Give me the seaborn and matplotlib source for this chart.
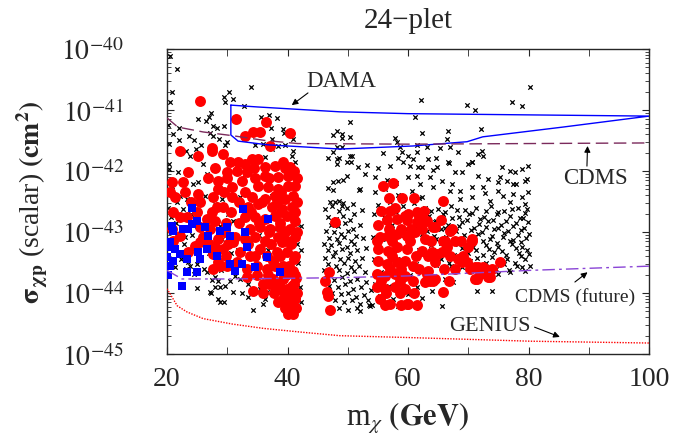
import numpy as np
import matplotlib
matplotlib.use('Agg')
import matplotlib.pyplot as plt
from matplotlib.ticker import LogLocator, NullFormatter
import seaborn as sns

# points: (m_chi in GeV, log10 sigma_xp in cm^2)
blk_left = [
    (20.5, -40.11), (21.7, -40.33), (20.8, -40.71), (20.5, -40.87), (33.9, -40.62), (30.3, -40.70),
    (29.5, -40.78), (29.6, -40.87), (30.9, -40.82), (32.8, -40.93), (27.3, -41.05), (25.1, -41.15),
    (27.0, -41.12), (26.5, -41.18), (22.0, -41.30), (27.6, -41.26), (28.3, -41.30), (29.5, -41.27),
    (23.6, -41.43), (27.1, -41.37), (27.6, -41.43), (22.0, -41.49), (24.5, -41.49), (28.6, -41.48),
    (30.0, -41.53), (29.6, -41.58), (25.6, -41.58), (23.2, -41.67), (24.8, -41.64), (35.6, -41.12),
    (36.9, -41.09), (38.2, -41.13), (37.2, -41.30), (39.2, -41.31), (39.4, -41.38), (40.9, -41.48),
    (37.4, -41.47), (34.6, -41.58), (35.9, -41.56), (37.4, -41.64), (38.4, -41.59), (39.6, -41.58),
    (40.9, -41.67), (20.2, -41.25), (21.0, -41.40), (20.4, -41.55),
    (20.3, -41.89), (20.3, -41.97), (21.8, -42.02), (23.8, -41.75), (26.0, -41.89), (26.6, -42.05),
    (25.1, -42.18), (24.3, -42.21), (20.8, -42.24), (22.2, -42.41), (21.7, -42.51), (23.3, -42.46),
    (26.3, -42.41), (27.5, -42.46), (28.0, -42.54), (29.1, -42.46), (31.3, -42.46), (32.1, -42.43),
    (30.1, -42.70), (31.0, -42.82), (25.0, -42.90), (26.3, -42.82), (23.0, -43.08), (26.8, -43.13),
    (29.1, -43.11), (35.1, -41.84), (36.3, -41.77), (40.7, -41.75), (41.2, -41.85), (40.9, -41.97),
    (41.2, -42.67), (41.5, -42.87), (34.1, -42.41), (37.4, -42.41), (33.0, -42.05), (33.8, -41.97),
    (20.2, -42.60), (20.6, -42.75), (21.5, -42.85), (22.6, -42.62), (24.0, -42.70), (27.2, -42.70),
    (28.8, -42.90), (29.8, -43.25), (30.6, -43.35), (31.8, -43.30), (33.6, -43.20), (35.2, -43.05),
    (36.8, -43.30), (38.0, -42.95), (39.5, -43.05), (41.6, -43.20), (41.8, -43.50), (41.4, -43.80),
    (41.7, -44.05), (41.2, -44.30), (21.5, -43.30), (22.8, -43.20), (24.2, -43.05), (25.8, -43.20),
    (27.0, -43.35), (28.2, -43.45), (29.0, -43.62), (30.8, -43.55), (22.4, -43.45), (23.8, -43.55),
    (26.2, -43.60), (27.5, -43.78), (25.0, -43.92), (27.1, -43.98),
    (21.3, -43.57), (23.2, -43.60), (25.0, -43.52), (24.5, -43.69), (26.6, -43.66), (28.0, -43.90),
    (27.3, -44.00), (28.8, -43.90), (29.6, -43.88), (28.5, -44.10), (29.5, -44.15), (31.3, -43.72),
    (32.1, -43.77), (33.4, -43.85), (34.1, -44.00), (33.4, -44.07), (34.3, -44.28), (35.9, -44.18),
    (36.3, -44.10), (36.6, -43.99), (37.6, -43.88), (39.2, -44.15), (39.2, -44.23), (40.4, -44.26),
    (23.5, -43.49), (29.3, -43.52), (29.9, -43.57), (30.4, -43.80), (28.5, -43.80), (28.0, -43.74),
    (31.0, -43.99), (32.4, -44.00), (35.4, -43.94), (28.8, -44.15),
    (42.2, -42.90), (42.3, -43.30), (42.1, -43.90), (42.2, -44.15),
]

blk_mid = [
    (50.3, -41.20), (48.2, -41.35), (47.5, -41.41), (49.0, -41.46), (48.2, -41.60), (49.0, -41.61),
    (47.5, -41.69), (46.7, -41.79), (48.5, -41.79), (48.2, -41.89), (50.3, -41.75), (50.5, -41.85),
    (51.7, -41.94), (47.5, -42.18), (48.4, -42.16), (49.2, -42.15), (49.8, -42.08), (46.7, -42.28),
    (47.5, -42.31), (51.8, -42.31), (48.5, -42.49), (47.0, -42.51), (49.0, -42.57), (49.0, -41.39),
    (50.3, -41.45), (48.2, -41.80), (49.8, -41.85), (50.7, -41.75), (52.0, -42.30),
    (46.2, -42.62), (47.4, -42.58), (48.6, -42.66), (49.8, -42.60), (51.1, -42.70), (52.3, -42.64),
    (46.8, -42.75), (48.0, -42.78), (49.2, -42.74), (50.4, -42.80), (47.2, -42.88), (48.4, -42.90),
    (49.6, -42.86), (50.9, -42.95), (52.0, -42.88), (46.4, -42.98), (47.7, -43.00), (48.9, -43.03),
    (50.1, -42.99), (51.4, -43.06), (46.9, -43.10), (48.2, -43.12), (49.4, -43.08), (50.6, -43.15),
    (52.6, -43.10), (46.1, -43.20), (47.3, -43.22), (48.6, -43.18), (49.9, -43.24), (51.0, -43.20),
    (46.7, -43.30), (47.9, -43.33), (49.1, -43.28), (50.3, -43.35), (51.6, -43.30), (53.1, -43.26),
    (46.3, -43.42), (47.5, -43.40), (48.7, -43.45), (50.0, -43.43), (51.2, -43.48), (52.4, -43.42),
    (46.8, -43.52), (48.1, -43.55), (49.3, -43.50), (50.6, -43.57), (51.9, -43.55), (46.0, -43.62),
    (47.2, -43.65), (48.5, -43.62), (49.8, -43.68), (51.1, -43.64), (52.8, -43.66), (46.5, -43.75),
    (47.8, -43.78), (49.0, -43.74), (50.3, -43.80), (51.5, -43.77), (53.0, -43.82), (46.9, -43.88),
    (48.3, -43.90), (49.6, -43.86), (50.9, -43.93), (52.2, -43.90), (47.4, -44.00), (48.8, -44.02),
    (50.1, -44.00), (51.4, -44.06), (52.7, -44.03), (47.9, -44.12), (49.3, -44.15), (50.7, -44.12),
    (52.0, -44.18), (53.3, -44.12), (48.5, -44.25), (50.0, -44.28), (51.6, -44.24), (53.6, -44.20),
    (49.2, -42.52), (50.8, -42.54), (47.9, -42.50), (52.0, -44.29), (53.7, -44.21),
]

blk_right = [
    (62.1, -40.84), (69.8, -40.92), (71.2, -41.00), (77.2, -40.87), (78.9, -40.93), (80.2, -40.62),
    (61.1, -41.11), (62.4, -41.38), (66.6, -41.34), (72.1, -41.31), (57.8, -41.46), (58.1, -41.53),
    (58.6, -41.61), (59.0, -41.69), (60.0, -41.75), (61.5, -41.69), (58.3, -41.79), (63.1, -41.61),
    (65.3, -41.63), (66.4, -41.48), (68.3, -41.69), (72.2, -41.67), (71.6, -41.72), (72.4, -41.75),
    (57.0, -41.92), (59.1, -41.85), (60.3, -41.92), (61.6, -41.94), (63.3, -41.80), (64.8, -41.94),
    (66.6, -41.85), (67.8, -42.02), (68.9, -42.02), (69.9, -41.89), (70.7, -41.85), (75.6, -41.94),
    (76.9, -42.00), (77.7, -42.02), (78.9, -41.97), (79.9, -41.92), (75.2, -42.10), (76.4, -42.16),
    (78.0, -42.21), (79.7, -42.13), (61.5, -41.58), (66.9, -41.61), (60.8, -41.80), (64.6, -41.79),
    (62.4, -41.93), (64.1, -41.98), (66.8, -41.87), (70.6, -41.86), (71.6, -42.08), (73.2, -42.13),
    (61.5, -42.08), (63.6, -42.10), (65.6, -42.16), (67.3, -42.21), (70.6, -42.26), (72.4, -42.26),
    (74.9, -42.18), (77.4, -42.21), (79.4, -42.16), (62.0, -42.21), (64.1, -42.26), (66.9, -42.32),
    (68.6, -42.32), (72.7, -42.36), (74.9, -42.32), (75.7, -42.41), (77.4, -42.38), (78.9, -42.43),
    (79.9, -42.35), (61.1, -42.43), (62.4, -42.43), (68.6, -42.46), (70.7, -42.43), (73.6, -42.49),
    (76.9, -42.51), (79.4, -42.54), (55.0, -41.95), (53.2, -41.90), (55.8, -41.70), (54.5, -42.10),
    (56.5, -42.15), (58.0, -42.20), (60.0, -42.10), (52.8, -42.05),
    (62.8, -42.60), (64.9, -42.63), (67.2, -42.58), (69.5, -42.64), (71.3, -42.60), (73.8, -42.57),
    (75.9, -42.65), (78.2, -42.60), (79.8, -42.62), (63.5, -42.74), (65.8, -42.70), (68.4, -42.75),
    (70.2, -42.71), (72.6, -42.76), (74.7, -42.70), (77.0, -42.73), (79.1, -42.77), (62.3, -42.86),
    (64.4, -42.83), (66.7, -42.88), (69.0, -42.84), (71.8, -42.87), (73.3, -42.82), (75.5, -42.88),
    (77.9, -42.85), (79.9, -42.83), (63.1, -42.98), (65.5, -42.95), (67.9, -42.99), (70.5, -42.96),
    (72.2, -43.00), (74.3, -42.95), (76.6, -42.99), (78.7, -42.96), (62.6, -43.10), (64.7, -43.12),
    (66.3, -43.08), (68.8, -43.13), (71.0, -43.09), (73.6, -43.12), (75.8, -43.08), (77.5, -43.13),
    (79.6, -43.10), (63.9, -43.22), (66.0, -43.25), (68.3, -43.20), (70.8, -43.24), (72.9, -43.21),
    (74.9, -43.25), (77.2, -43.20), (79.0, -43.24), (62.9, -43.36), (65.2, -43.33), (67.6, -43.37),
    (69.9, -43.34), (72.4, -43.38), (74.2, -43.33), (76.3, -43.37), (78.4, -43.34), (80.0, -43.36),
    (64.2, -43.48), (66.8, -43.50), (70.3, -43.47), (73.0, -43.50), (75.4, -43.46), (77.8, -43.50),
    (79.5, -43.45), (63.4, -43.60), (65.9, -43.62), (68.9, -43.58), (71.7, -43.62), (74.6, -43.60),
    (76.8, -43.63), (78.9, -43.58), (64.0, -43.97), (65.6, -44.21), (71.4, -43.97), (73.9, -43.97),
    (66.1, -43.77), (67.4, -43.82), (74.9, -43.69), (76.9, -43.66), (79.4, -43.64), (80.2, -43.56),
    (54.5, -42.35), (56.2, -42.30), (58.4, -42.40), (60.6, -42.33), (61.8, -42.45), (55.1, -42.55),
    (57.0, -42.50), (59.2, -42.58), (61.0, -42.52), (54.3, -42.70), (56.0, -42.75), (58.0, -42.68),
    (60.1, -42.76), (61.7, -42.70), (55.0, -42.90), (57.3, -42.88), (59.5, -42.95), (61.2, -42.90),
    (54.2, -43.08), (56.4, -43.12), (58.6, -43.05), (60.7, -43.10), (55.3, -43.28), (57.6, -43.30),
    (59.9, -43.25), (61.9, -43.30), (54.4, -43.45), (56.8, -43.50), (58.9, -43.44), (61.3, -43.52),
    (55.6, -43.66), (57.9, -43.62), (60.3, -43.70), (62.1, -43.65), (54.6, -43.85), (56.9, -43.88),
    (59.1, -43.82), (61.5, -43.90), (55.4, -44.05), (57.5, -44.10), (60.0, -44.02), (62.4, -44.08),
    (54.1, -44.20), (58.3, -44.22), (53.9, -43.95),
]

blk_right_dense = [
    (63.9, -42.66), (66.1, -42.68), (68.2, -42.64), (70.6, -42.69), (72.9, -42.65), (75.0, -42.68),
    (77.3, -42.63), (79.5, -42.69), (62.7, -42.79), (64.6, -42.82), (67.3, -42.77), (69.8, -42.81),
    (71.9, -42.78), (74.1, -42.80), (76.2, -42.82), (78.6, -42.77), (63.8, -42.92), (66.1, -42.94),
    (68.4, -42.90), (70.9, -42.93), (73.0, -42.91), (75.0, -42.94), (77.4, -42.90), (79.3, -42.93),
    (62.4, -43.04), (64.3, -43.06), (66.8, -43.02), (69.3, -43.05), (71.6, -43.03), (73.9, -43.06),
    (76.0, -43.02), (78.2, -43.05), (80.0, -43.03), (63.4, -43.16), (65.4, -43.18), (67.7, -43.14),
    (70.1, -43.17), (72.4, -43.15), (74.7, -43.18), (76.9, -43.14), (78.8, -43.17), (64.1, -43.29),
    (66.4, -43.31), (68.9, -43.27), (71.3, -43.30), (73.5, -43.28), (75.6, -43.31), (77.9, -43.27),
    (79.7, -43.30), (63.2, -43.42), (65.5, -43.44), (68.0, -43.40), (71.5, -43.43), (74.0, -43.41),
    (76.5, -43.44), (78.7, -43.40), (64.6, -43.54), (67.2, -43.56), (69.6, -43.52), (72.3, -43.55),
    (75.9, -43.53), (78.1, -43.56),
]

red_left = [
    (25.5, -40.86), (31.4, -41.15), (36.4, -41.19), (34.3, -41.36), (35.4, -41.36), (32.9, -41.43),
    (40.4, -41.37), (37.1, -41.59), (22.2, -41.67), (27.5, -41.63), (29.3, -41.72),
    (25.1, -41.75), (27.5, -41.67), (34.1, -41.80), (30.4, -41.85), (31.8, -41.85), (32.9, -41.89),
    (35.1, -41.80), (36.3, -41.94), (37.9, -41.92), (39.2, -41.85), (40.4, -41.94), (23.5, -42.02),
    (29.9, -42.02), (31.6, -42.00), (33.3, -42.02), (36.3, -42.08), (38.4, -42.10), (40.1, -42.08),
    (20.8, -42.18), (22.7, -42.18), (28.5, -42.16), (32.4, -42.16), (28.5, -42.30), (30.8, -42.26),
    (35.1, -42.24), (36.7, -42.26), (38.4, -42.30), (40.1, -42.24), (25.1, -42.38), (20.5, -42.35),
    (23.0, -42.35), (27.6, -42.43), (30.8, -42.43), (34.1, -42.43), (36.3, -42.46), (37.9, -42.41),
    (39.6, -42.46), (40.9, -42.41), (21.3, -42.43), (25.5, -42.51), (28.3, -42.59), (29.3, -42.59),
    (33.4, -42.59), (35.1, -42.54), (37.4, -42.59), (39.1, -42.62), (40.7, -42.59), (23.3, -42.75),
    (26.6, -42.79), (28.0, -42.82), (32.9, -42.75), (34.6, -42.75), (36.3, -42.79), (37.9, -42.74),
    (39.9, -42.74), (41.2, -42.82), (20.8, -42.95), (25.5, -42.92), (27.1, -42.95), (33.8, -42.95),
    (35.4, -42.92), (37.1, -42.95), (38.7, -42.92), (40.4, -42.95), (22.2, -43.06), (26.0, -43.08),
    (28.5, -43.11), (31.3, -43.08), (32.9, -43.11), (34.6, -43.08), (36.3, -43.15), (38.4, -43.08),
    (39.9, -43.15), (41.2, -43.08), (24.6, -43.23), (28.0, -43.25), (29.3, -43.28),
    (21.0, -43.15), (23.5, -43.33), (25.5, -43.17), (28.8, -43.56), (27.6, -43.61), (31.6, -43.49),
    (33.3, -43.61), (33.3, -43.74), (34.3, -43.96), (35.9, -43.85), (36.6, -43.61), (37.6, -43.77),
    (39.2, -43.77), (39.9, -43.93), (40.7, -43.88), (40.4, -44.02), (41.2, -44.10), (40.9, -44.34),
    (39.2, -43.56), (40.9, -43.64), (28.5, -43.49), (27.6, -43.36), (31.0, -43.17), (33.8, -43.39),
    (35.4, -43.28), (38.2, -43.33), (39.9, -43.33), (37.6, -43.47), (39.1, -43.17), (32.1, -43.33),
    (22.2, -42.75), (21.0, -42.67), (38.8, -43.40), (40.2, -43.55), (39.0, -43.95), (40.6, -44.20),
    (38.0, -43.90), (41.0, -42.00), (41.3, -42.25), (41.0, -43.45), (39.3, -44.10), (40.0, -44.35),
    (41.4, -43.75),
    (28.0, -41.95), (34.5, -41.95), (39.6, -41.95), (26.8, -42.12), (30.0, -42.12), (34.6, -42.12),
    (37.0, -42.12), (41.6, -42.12), (29.4, -42.35), (33.0, -42.35), (39.0, -42.35), (24.0, -42.50),
    (31.9, -42.50), (35.8, -42.50), (38.2, -42.50), (41.5, -42.50), (25.0, -42.68), (27.4, -42.68),
    (30.6, -42.68), (34.0, -42.68), (38.9, -42.68), (41.3, -42.68), (29.8, -42.85),
    (31.9, -42.85), (35.2, -42.85), (38.8, -42.85), (29.6, -43.00),
    (36.9, -43.00), (39.6, -43.00), (41.5, -43.00), (27.0, -43.20), (30.2, -43.20), (33.5, -43.20),
    (37.2, -43.20), (40.6, -43.20), (29.8, -43.40), (34.6, -43.40), (36.6, -43.40),
    (41.3, -43.40), (30.0, -43.55), (34.9, -43.55), (37.9, -43.55), (35.0, -43.70), (36.7, -43.70),
    (39.8, -43.70), (41.2, -43.70), (37.0, -43.85), (38.6, -43.85), (41.0, -43.85), (36.0, -44.00),
    (37.8, -44.00), (39.8, -44.00), (41.5, -44.00), (38.4, -44.15), (40.0, -44.15), (41.4, -44.25),
    (39.6, -44.25),
]

red_right = [
    (47.9, -42.84), (46.9, -43.66), (46.2, -43.80), (46.5, -43.98), (46.7, -44.05), (47.0, -44.28),
    (55.8, -42.25), (57.5, -42.20), (65.8, -42.49), (57.8, -42.60), (61.5, -42.67), (59.5, -42.74),
    (55.0, -42.89), (58.1, -42.79), (60.0, -42.70), (61.5, -42.84), (63.1, -42.82), (64.1, -42.92),
    (66.9, -42.98), (55.3, -43.08), (56.6, -43.06), (58.1, -43.03), (59.8, -43.06), (61.1, -43.00),
    (62.8, -43.11), (65.8, -43.15), (67.8, -43.15), (70.7, -43.15), (55.0, -43.28), (56.6, -43.31),
    (58.1, -43.25), (59.8, -43.28), (62.3, -43.31), (64.8, -43.36), (66.4, -43.25), (69.1, -43.39),
    (69.8, -43.49), (71.6, -43.58), (72.7, -43.61), (75.2, -43.49), (71.4, -43.77), (73.2, -43.74),
    (55.0, -43.47), (56.5, -43.52), (58.1, -43.49), (59.5, -43.47), (60.8, -43.56), (63.3, -43.64),
    (64.4, -43.77), (54.8, -43.69), (56.2, -43.72), (57.8, -43.69), (59.5, -43.72), (54.8, -43.90),
    (56.2, -43.93), (57.8, -43.90), (59.5, -43.93), (55.3, -44.10), (57.0, -44.18), (59.8, -44.18),
    (65.8, -43.98), (63.6, -43.80), (61.6, -42.70), (64.4, -42.92), (67.3, -42.95), (66.1, -43.15),
    (70.6, -43.11), (69.9, -43.25), (64.0, -43.33), (65.6, -43.33), (64.4, -43.49), (68.3, -43.44),
    (68.9, -43.49), (71.1, -43.57), (72.4, -43.57), (73.9, -43.60), (71.9, -43.69), (73.6, -43.74),
    (71.1, -43.77), (63.1, -43.69), (62.8, -43.82), (64.1, -43.80), (60.0, -44.18),
    (56.8, -42.45), (59.0, -42.45), (61.0, -42.45), (55.6, -42.65), (57.0, -42.65), (62.7, -42.65),
    (56.5, -42.80), (59.8, -42.80), (62.5, -42.80), (65.5, -42.80), (56.8, -42.95), (58.9, -42.95),
    (60.5, -42.95), (62.4, -42.95), (54.9, -43.15), (57.4, -43.15), (60.4, -43.15), (63.8, -43.15),
    (68.8, -43.15), (57.4, -43.40), (61.4, -43.40), (63.4, -43.40), (66.9, -43.40), (57.0, -43.60),
    (58.8, -43.60), (61.8, -43.60), (65.9, -43.60), (67.8, -43.60), (70.3, -43.60), (55.6, -43.80),
    (58.6, -43.80), (60.8, -43.80), (66.8, -43.80), (56.4, -44.00), (58.6, -44.00), (61.0, -44.00),
    (56.2, -44.20), (58.8, -44.20), (61.5, -44.20),
]

blue_sq = [
    (24.1, -42.60), (20.8, -42.90), (21.0, -42.98), (22.7, -42.95), (24.1, -42.87), (24.9, -42.82),
    (26.3, -42.92), (26.8, -43.06), (20.5, -43.17), (21.3, -43.28), (20.2, -43.25), (20.0, -43.41),
    (20.5, -43.56), (20.2, -43.70), (23.3, -43.44), (25.5, -43.44), (25.1, -43.33), (26.6, -43.28),
    (28.3, -43.39), (28.8, -42.98), (30.4, -43.06), (32.9, -43.00), (33.3, -43.25), (32.4, -43.52),
    (31.3, -43.64), (30.4, -43.52), (34.6, -43.58), (36.6, -43.41), (23.3, -43.66), (24.9, -43.66),
    (22.5, -43.89), (38.7, -43.66), (21.0, -43.47), (22.2, -43.36), (32.6, -42.62), (23.5, -42.95),
    (29.9, -42.92), (36.7, -42.79),
]

# limit curves (m_chi, log10 sigma)
dama = [
    (30.6, -40.92), (35.0, -40.95), (48.7, -41.03), (60.0, -41.06), (80.0, -41.08), (100.0, -41.10),
    (85.7, -41.28), (72.4, -41.44), (69.8, -41.52), (60.8, -41.59), (48.7, -41.64), (36.6, -41.57),
    (31.8, -41.51), (30.6, -41.41), (30.6, -40.92),
]
cdms = [(20.0, -41.13), (21.8, -41.28), (26.0, -41.36), (30.8, -41.42), (36.3, -41.50),
        (41.7, -41.55), (60.0, -41.56), (100.0, -41.54)]
cdms_future = [(20.0, -43.63), (22.5, -43.77), (30.0, -43.77), (48.0, -43.75), (60.0, -43.72),
               (80.0, -43.63), (100.0, -43.56)]
genius = [(20.0, -43.93), (21.7, -44.21), (23.3, -44.31), (26.0, -44.42), (30.9, -44.51),
          (36.0, -44.58), (42.1, -44.64), (48.7, -44.70), (60.0, -44.73), (80.2, -44.79),
          (100.0, -44.82)]

y_ticks = [1e-45, 1e-44, 1e-43, 1e-42, 1e-41, 1e-40]
y_tick_labels = [r'$10^{-45}$', r'$10^{-44}$', r'$10^{-43}$', r'$10^{-42}$', r'$10^{-41}$', r'$10^{-40}$']
x_ticks = [20, 40, 60, 80, 100]


def unpack(pts):
    a = np.array(pts)
    return a[:, 0], 10.0 ** a[:, 1]


sns.set_style('ticks')
plt.rcParams['font.family'] = ['Liberation Serif', 'DejaVu Serif']
plt.rcParams['mathtext.fontset'] = 'stix'

fig = plt.figure(figsize=(6.78, 4.39), dpi=100)
ax = fig.add_axes([167 / 678, 1 - 355 / 439, 482 / 678, 305 / 439])

bx, by = unpack(blk_left + blk_mid + blk_right + blk_right_dense)
sns.scatterplot(x=bx, y=by, ax=ax, marker='x', color='black', s=10, linewidth=0.9, zorder=2)
rx, ry = unpack(red_left + red_right)
sns.scatterplot(x=rx, y=ry, ax=ax, marker='o', color='#ff0000', s=62, linewidth=0, zorder=3)
qx, qy = unpack(blue_sq)
sns.scatterplot(x=qx, y=qy, ax=ax, marker='s', color='#0000ff', s=30, linewidth=0, zorder=4)

x, y = unpack(dama)
ax.plot(x, y, color='#0000ff', lw=1.0, zorder=5)
x, y = unpack(cdms)
ax.plot(x, y, color='#7b2a5c', lw=1.0, dashes=(9, 4), zorder=5)
x, y = unpack(cdms_future)
ax.plot(x, y, color='#8a45d6', lw=1.0, dashes=(9, 3, 2, 3), zorder=5)
x, y = unpack(genius)
ax.plot(x, y, color='#ff0000', lw=1.0, linestyle=(0, (1, 1)), zorder=5)

ax.set_yscale('log')
ax.set_xlim(20, 100)
ax.set_ylim(1e-45, 1e-40)
ax.set_xticks(x_ticks)
ax.set_xticks([30, 50, 70, 90], minor=True)
ax.set_yticks(y_ticks)
ax.set_yticklabels(y_tick_labels)
ax.yaxis.set_minor_locator(LogLocator(base=10, subs=np.arange(2, 10), numticks=100))
ax.yaxis.set_minor_formatter(NullFormatter())
ax.tick_params(which='both', direction='in', top=True, right=True, labelsize=20)
ax.tick_params(which='major', length=5, width=0.8)
ax.tick_params(which='minor', length=3, width=0.6)
ax.tick_params(axis='x', which='minor', length=5)
ax.tick_params(axis='y', pad=31)
ax.tick_params(axis='x', pad=9)
for s in ax.spines.values():
    s.set_linewidth(1.0)

ax.set_xlabel(r'm$_{\chi}$ $\mathbf{(GeV)}$', fontsize=22)
ax.xaxis.set_label_coords(0.5, -0.15)
ax.set_ylabel(r'$\mathbf{\sigma_{\chi p}}$ (scalar) $\mathbf{(cm^{2})}$', fontsize=20)
ax.yaxis.set_label_coords(-0.243, 0.5)
ax.set_title('24\u2212plet', fontsize=21, pad=16)

arrow = dict(arrowstyle='-|>', color='black', lw=0.8, mutation_scale=9, shrinkA=0, shrinkB=0)
ax.text(48.9, 10 ** -40.51, 'DAMA', fontsize=16.5, ha='center', va='center')
ax.annotate('', xy=(40.7, 10 ** -40.92), xytext=(43.4, 10 ** -40.72), arrowprops=arrow)
ax.text(91.1, 10 ** -42.10, 'CDMS', fontsize=16.5, ha='center', va='center')
ax.annotate('', xy=(89.8, 10 ** -41.59), xytext=(89.7, 10 ** -41.92), arrowprops=arrow)
ax.text(87.8, 10 ** -44.05, 'CDMS (future)', fontsize=14, ha='center', va='center')
ax.annotate('', xy=(89.8, 10 ** -43.66), xytext=(87.7, 10 ** -43.82), arrowprops=arrow)
ax.text(73.6, 10 ** -44.54, 'GENIUS', fontsize=16, ha='center', va='center')
ax.annotate('', xy=(85.2, 10 ** -44.72), xytext=(81.0, 10 ** -44.56), arrowprops=arrow)

fig.savefig('out.png', dpi=100)
